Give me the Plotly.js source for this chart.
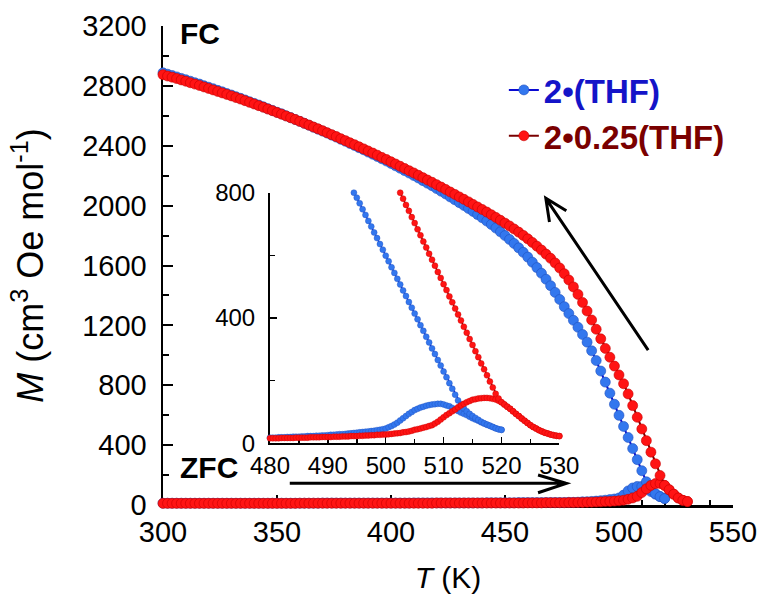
<!DOCTYPE html>
<html><head><meta charset="utf-8">
<script src="https://cdn.plot.ly/plotly-3.0.1.min.js"></script>
<style>html,body{margin:0;padding:0;background:#fff}</style>
</head><body><div id="chart" style="width:762px;height:605px"></div>
<script>
// ---------- main plot data (2 K steps) ----------
const tMainBlue = [300,302,304,306,308,310,312,314,316,318,
320,322,324,326,328,330,332,334,336,338,
340,342,344,346,348,350,352,354,356,358,
360,362,364,366,368,370,372,374,376,378,
380,382,384,386,388,390,392,394,396,398,
400,402,404,406,408,410,412,414,416,418,
420,422,424,426,428,430,432,434,436,438,
440,442,444,446,448,450,452,454,456,458,
460,462,464,466,468,470,472,474,476,478,
480,482,484,486,488,490,492,494,496,498,
500,502,504,506,508,510,512,514,516,518,
520];
const tMainRed = [300,302,304,306,308,310,312,314,316,318,
320,322,324,326,328,330,332,334,336,338,
340,342,344,346,348,350,352,354,356,358,
360,362,364,366,368,370,372,374,376,378,
380,382,384,386,388,390,392,394,396,398,
400,402,404,406,408,410,412,414,416,418,
420,422,424,426,428,430,432,434,436,438,
440,442,444,446,448,450,452,454,456,458,
460,462,464,466,468,470,472,474,476,478,
480,482,484,486,488,490,492,494,496,498,
500,502,504,506,508,510,512,514,516,518,
520,522,524,526,528,530];
const zfcMainBlue = [12,12,12,12,12,12,12,12,12,12,
12,12,12,12,12,12,12,12,12,12,
12,12,12,12,12,12,12,12,12,12,
12,12,12,12,12,13,13,13,13,13,
13,13,13,13,13,13,13,13,13,13,
13,13,13,13,13,14,14,14,14,14,
14,14,14,14,14,14,14,14,14,14,
14,15,15,15,15,15,15,15,16,16,
16,16,16,16,17,17,17,17,17,18,
18,19,21,22,24,26,29,32,36,40,
47,66,94,114,124,124,108,90,72,56,
43];
const fcMainBlue = [2887,2878,2869,2860,2850,2841,2831,2821,2812,2801,
2791,2781,2770,2760,2749,2739,2728,2717,2706,2694,
2683,2672,2660,2648,2636,2624,2613,2600,2588,2575,
2563,2550,2537,2524,2511,2498,2485,2471,2458,2443,
2430,2415,2402,2387,2373,2358,2343,2328,2313,2298,
2282,2266,2250,2234,2218,2201,2185,2167,2150,2133,
2114,2096,2078,2058,2039,2020,2001,1981,1961,1940,
1919,1897,1874,1850,1825,1800,1774,1747,1718,1688,
1656,1622,1586,1548,1508,1465,1420,1373,1325,1279,
1234,1187,1139,1088,1030,965,895,821,747,673,
599,525,451,377,303,229,155,102,75,56,
43];
const zfcMainRed = [11,11,11,11,11,11,11,11,11,11,
11,11,11,11,11,11,11,11,11,11,
11,11,11,11,11,11,11,11,11,11,
12,12,12,12,12,12,12,12,12,12,
12,12,12,12,12,12,12,12,12,12,
12,12,12,12,12,12,12,12,12,12,
13,13,13,13,13,13,13,13,13,13,
13,13,13,13,13,13,13,13,13,13,
14,14,14,14,15,15,15,15,15,16,
16,17,17,18,19,20,21,23,24,26,
28,32,38,47,58,83,108,131,143,144,
131,102,72,47,31,23];
const fcMainRed = [2875,2866,2858,2849,2840,2831,2821,2812,2803,2793,
2783,2773,2763,2753,2743,2733,2722,2712,2701,2690,
2679,2668,2657,2645,2634,2622,2611,2599,2587,2575,
2563,2550,2538,2525,2513,2500,2487,2474,2461,2447,
2434,2420,2407,2393,2379,2365,2351,2337,2322,2308,
2293,2278,2263,2248,2233,2218,2203,2187,2171,2156,
2140,2124,2108,2091,2075,2058,2042,2025,2008,1991,
1974,1957,1939,1921,1902,1883,1864,1844,1823,1801,
1778,1754,1729,1703,1676,1648,1617,1583,1545,1503,
1457,1407,1353,1296,1236,1174,1110,1046,987,928,
869,810,742,664,586,508,430,353,275,197,
131,102,72,47,31,23];

// ---------- inset data (0.5 K steps) ----------
const tInBlue = [480,480.5,481,481.5,482,482.5,483,483.5,484,484.5,
485,485.5,486,486.5,487,487.5,488,488.5,489,489.5,
490,490.5,491,491.5,492,492.5,493,493.5,494,494.5,
495,495.5,496,496.5,497,497.5,498,498.5,499,499.5,
500,500.5,501,501.5,502,502.5,503,503.5,504,504.5,
505,505.5,506,506.5,507,507.5,508,508.5,509,509.5,
510,510.5,511,511.5,512,512.5,513,513.5,514,514.5,
515,515.5,516,516.5,517,517.5,518,518.5,519,519.5,
520];
const zfcInBlue = [18,18,18,19,19,19,20,20,21,21,
21,22,22,23,23,23,24,24,25,25,
26,27,27,28,29,29,30,31,32,33,
34,35,36,37,38,39,40,42,43,45,
47,51,55,60,66,73,80,87,94,100,
106,110,114,117,120,122,124,125,126,126,
124,121,118,113,108,103,98,94,90,85,
80,76,72,67,63,59,56,52,48,45,
43];
// FC (cooling) values for T = 494.5 ... 520 (visible part of the inset)
const fcInBlue = [800,
784,766,747,729,710,692,673,655,636,618,
599,581,562,544,525,507,488,470,451,433,
414,396,377,359,340,322,303,285,266,248,
229,211,192,174,155,137,124,112,102,94,
87,81,75,69,64,60,56,52,48,45,
43];
const tInRed = [480,480.5,481,481.5,482,482.5,483,483.5,484,484.5,
485,485.5,486,486.5,487,487.5,488,488.5,489,489.5,
490,490.5,491,491.5,492,492.5,493,493.5,494,494.5,
495,495.5,496,496.5,497,497.5,498,498.5,499,499.5,
500,500.5,501,501.5,502,502.5,503,503.5,504,504.5,
505,505.5,506,506.5,507,507.5,508,508.5,509,509.5,
510,510.5,511,511.5,512,512.5,513,513.5,514,514.5,
515,515.5,516,516.5,517,517.5,518,518.5,519,519.5,
520,520.5,521,521.5,522,522.5,523,523.5,524,524.5,
525,525.5,526,526.5,527,527.5,528,528.5,529,529.5,
530];
const zfcInRed = [16,16,16,16,17,17,17,17,17,18,
18,18,18,18,19,19,19,19,20,20,
20,20,21,21,21,22,22,22,23,23,
23,24,24,25,25,26,26,27,27,28,
28,29,30,31,32,33,35,36,38,40,
43,45,47,50,52,55,58,63,69,76,
83,90,96,102,108,115,121,126,131,135,
139,141,143,144,145,145,144,142,140,136,
131,124,117,110,102,94,87,79,72,65,
58,52,47,42,38,34,31,28,26,24,
23];
// FC (cooling) values for T = 502.5 ... 530
const fcInRed = [800,781,761,742,722,
703,683,664,644,625,605,586,567,547,528,
508,489,469,450,430,411,392,372,353,333,
314,294,275,255,236,217,197,178,158,143,
131,124,117,110,102,94,87,79,72,65,
58,52,47,42,38,34,31,28,26,24,
23];

const FONT = 'Liberation Sans, Arial, Helvetica, sans-serif';
const BLUE_M = '#3377ee', BLUE_L = '#0a0ad2', BLUE_E = '#2050c0';
const RED_M = '#ff1414', RED_L = '#7a0000', RED_E = '#c80000';

function mainTrace(x, y, mc, lc, ec, name, show) {
  return {x: x, y: y, type: 'scatter', mode: 'lines+markers', name: name, showlegend: show,
    legendgroup: name, xaxis: 'x', yaxis: 'y', cliponaxis: false,
    line: {color: lc, width: 2}, marker: {size: 10, color: mc, line: {width: 0.6, color: ec}}};
}
function insetTrace(x, y, mc, lc, ec) {
  return {x: x, y: y, type: 'scatter', mode: 'lines+markers', showlegend: false,
    xaxis: 'x2', yaxis: 'y2', cliponaxis: false,
    line: {color: lc, width: 1.5}, marker: {size: 6, color: mc, line: {width: 0.4, color: ec}}};
}
const nameBlue = '<span style="color:#1414c8">2•(THF)</span>';
const nameRed = '<span style="color:#7a0000">2•0.25(THF)</span>';

const data = [
  mainTrace(tMainBlue, zfcMainBlue, BLUE_M, BLUE_L, BLUE_E, nameBlue, false),
  mainTrace(tMainBlue, fcMainBlue, BLUE_M, BLUE_L, BLUE_E, nameBlue, true),
  mainTrace(tMainRed, zfcMainRed, RED_M, RED_L, RED_E, nameRed, false),
  mainTrace(tMainRed, fcMainRed, RED_M, RED_L, RED_E, nameRed, true),
  insetTrace(tInBlue, zfcInBlue, BLUE_M, BLUE_L, BLUE_E),
  insetTrace(tInBlue.slice(tInBlue.length - fcInBlue.length), fcInBlue, BLUE_M, BLUE_L, BLUE_E),
  insetTrace(tInRed, zfcInRed, RED_M, RED_L, RED_E),
  insetTrace(tInRed.slice(tInRed.length - fcInRed.length), fcInRed, RED_M, RED_L, RED_E)
];

const axBase = {showgrid: false, zeroline: false, showline: true, linecolor: '#000', mirror: false,
  ticks: 'inside', tickcolor: '#000', layer: 'below traces'};

const layout = {
  width: 762, height: 605,
  margin: {l: 163, r: 29, t: 26, b: 100},
  paper_bgcolor: '#fff', plot_bgcolor: 'rgba(0,0,0,0)',
  font: {family: FONT, color: '#000'},
  xaxis: Object.assign({}, axBase, {domain: [0, 1], anchor: 'y', range: [300, 550],
    tick0: 300, dtick: 50, ticklen: 10, tickwidth: 2, linewidth: 2.5,
    minor: {dtick: 10, ticklen: 5, tickwidth: 2, ticks: 'inside', tickcolor: '#000'},
    tickfont: {size: 29, family: FONT}, ticklabelstandoff: 0,
    title: {text: '<i>T</i> (K)', font: {size: 30, family: FONT}, standoff: 20}}),
  yaxis: Object.assign({}, axBase, {domain: [0, 1], anchor: 'x', range: [0, 3200],
    tick0: 0, dtick: 400, ticklen: 10, tickwidth: 2, linewidth: 2.5,
    minor: {dtick: 200, ticklen: 6, tickwidth: 2, ticks: 'inside', tickcolor: '#000'},
    tickfont: {size: 29, family: FONT}, ticklabelstandoff: 8,
    title: {text: '<i>M</i> (cm<sup>3</sup> Oe mol<sup>-1</sup>)', font: {size: 36, family: FONT}, standoff: 28}}),
  xaxis2: Object.assign({}, axBase, {domain: [0.1877, 0.6953], anchor: 'y2', range: [480, 530],
    tick0: 480, dtick: 10, ticklen: 6, tickwidth: 1.5, linewidth: 2,
    minor: {dtick: 5, ticklen: 4, tickwidth: 1.5, ticks: 'inside', tickcolor: '#000'},
    tickfont: {size: 24, family: FONT}, ticklabelstandoff: 0}),
  yaxis2: Object.assign({}, axBase, {domain: [0.1288, 0.652], anchor: 'x2', range: [0, 800],
    tick0: 0, dtick: 400, ticklen: 7, tickwidth: 1.5, linewidth: 2,
    minor: {dtick: 200, ticklen: 5, tickwidth: 1.5, ticks: 'inside', tickcolor: '#000'},
    tickfont: {size: 24, family: FONT}, ticklabelstandoff: 8}),
  legend: {x: 0.598, y: 0.925, xanchor: 'left', yanchor: 'top', bgcolor: 'rgba(0,0,0,0)',
    font: {size: 33, family: FONT, weight: 'bold'}, tracegroupgap: 0},
  annotations: [
    {text: 'FC', xref: 'paper', yref: 'paper', x: 0.026, y: 0.985, xanchor: 'left', yanchor: 'middle',
     showarrow: false, font: {size: 30, family: FONT, weight: 'bold', color: '#000'}},
    {text: 'ZFC', xref: 'paper', yref: 'paper', x: 0.026, y: 0.079, xanchor: 'left', yanchor: 'middle',
     showarrow: false, font: {size: 30, family: FONT, weight: 'bold', color: '#000'}}
  ],
  shapes: [
    {type: 'path', xref: 'x', yref: 'y', path: 'M355.6,145 L476.9,145 M464.5,200 L476.9,145 L464.5,82',
     line: {color: '#000', width: 3}},
    {type: 'path', xref: 'x', yref: 'y', path: 'M512.8,1035 L467.9,2049 M469.5,1890 L467.9,2049 L476.9,1966',
     line: {color: '#000', width: 3}}
  ]
};

Plotly.newPlot('chart', data, layout, {displayModeBar: false, staticPlot: true});
</script></body></html>
